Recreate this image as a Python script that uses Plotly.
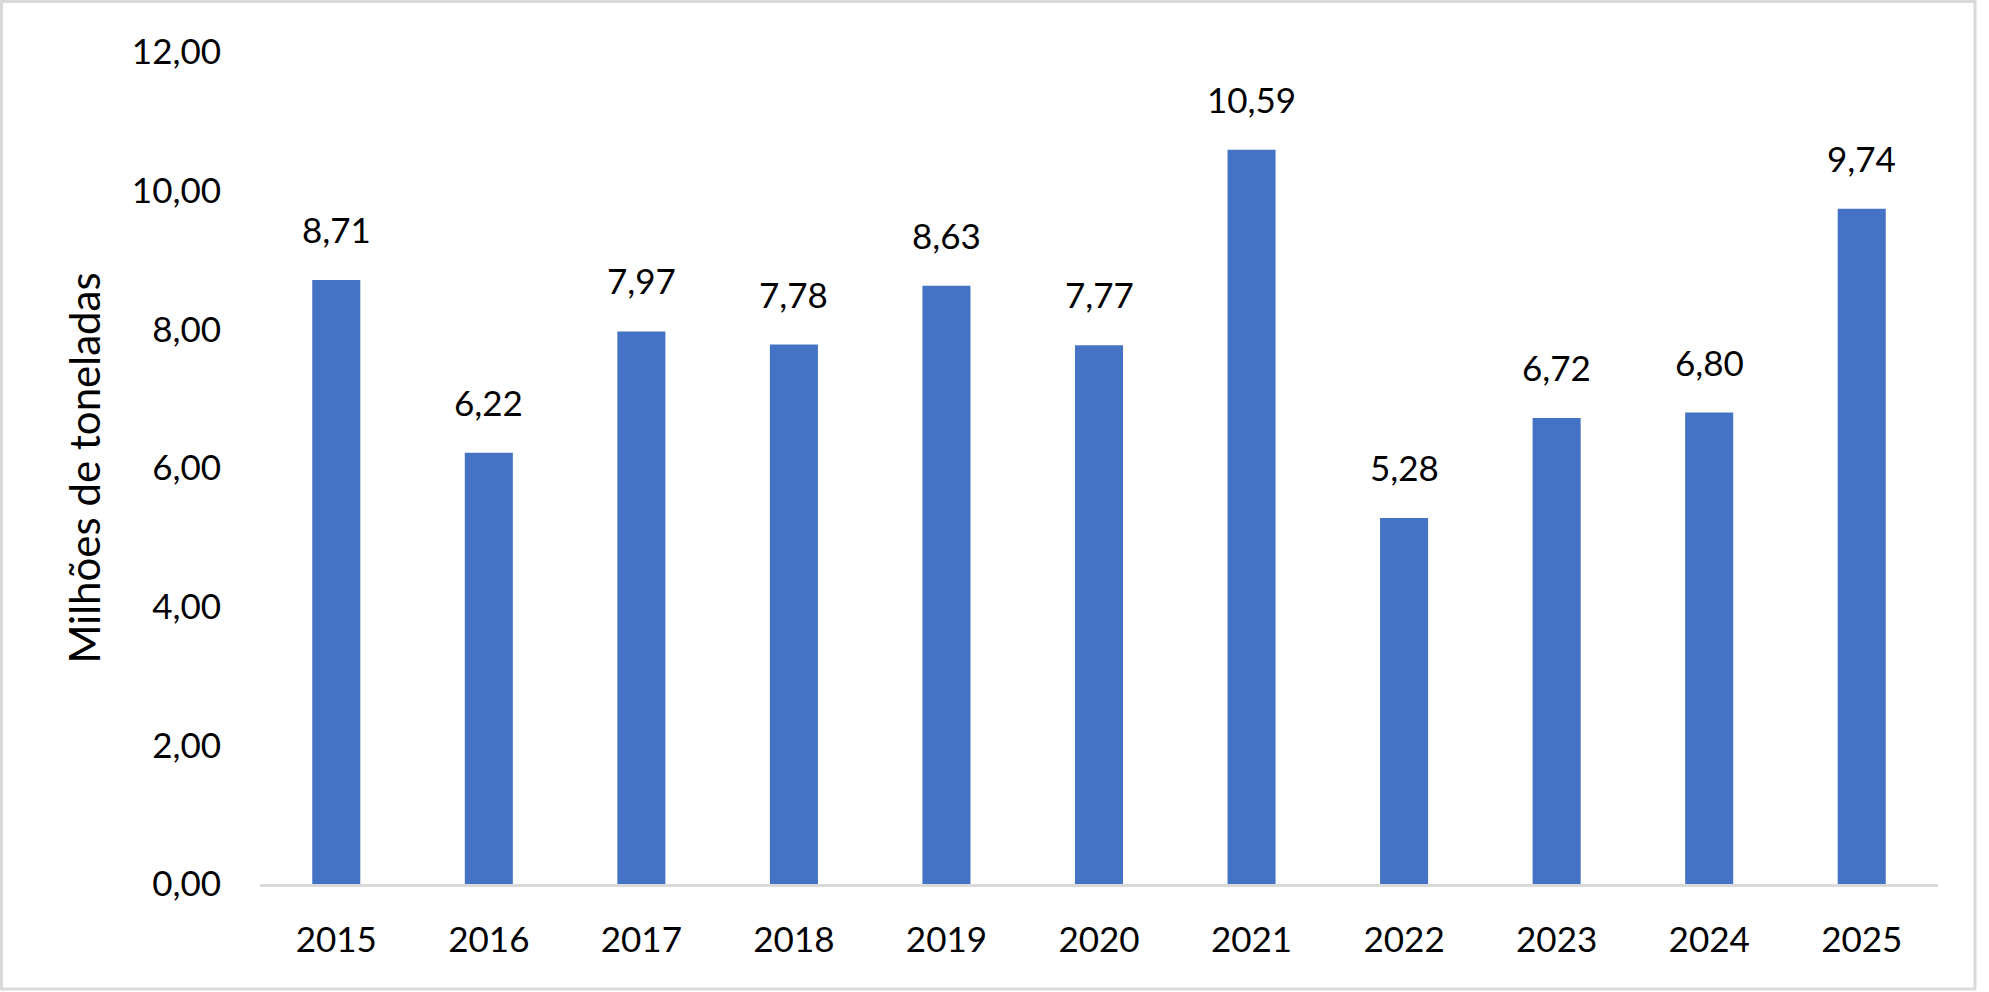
import plotly.graph_objects as go

years = ["2015", "2016", "2017", "2018", "2019", "2020", "2021", "2022", "2023", "2024", "2025"]
values = [8.71, 6.22, 7.97, 7.78, 8.63, 7.77, 10.59, 5.28, 6.72, 6.80, 9.74]
y_title = "Milhões de toneladas"
y_ticks = [0, 2, 4, 6, 8, 10, 12]

FONT = "Lato"
W, H = 1989, 992
L, R, T, B = 260, 51, 52, 108

fig = go.Figure()
fig.add_trace(go.Bar(x=years, y=values, marker=dict(color="#4472C4", line=dict(width=0)),
                     hoverinfo="skip"))

# category index of each year (category axis positions)
for i, v in enumerate(values):
    fig.add_annotation(x=i, y=v, xref="x", yref="y", text=f"{v:.2f}".replace(".", ","),
                       showarrow=False, yanchor="bottom", yshift=28,
                       font=dict(family=FONT, size=35, color="#000000"))

pw = W - L - R
ph = H - T - B
fig.add_shape(type="rect", xref="paper", yref="paper",
              x0=(1.5 - L) / pw, x1=(1975 - L) / pw,
              y0=(H - B - 989) / ph, y1=(H - B - 1.5) / ph,
              line=dict(color="#D9D9D9", width=3), fillcolor="rgba(0,0,0,0)", layer="below")

fig.update_layout(
    width=W, height=H,
    margin=dict(l=L, r=R, t=T, b=B, pad=0),
    paper_bgcolor="white", plot_bgcolor="white",
    separators=",.",
    bargap=0.685,
    showlegend=False,
    font=dict(family=FONT, color="#000000"),
)
fig.update_xaxes(type="category", range=[-0.5, len(years) - 0.5], showgrid=False,
                 showline=True, linecolor="#D9D9D9", linewidth=3,
                 ticks="", tickfont=dict(family=FONT, size=35, color="#000000"),
                 ticklabelstandoff=23, zeroline=False)
fig.update_yaxes(range=[0, 12], tickvals=y_ticks, tickformat=".2f", showgrid=False,
                 showline=False, zeroline=False, ticks="",
                 tickfont=dict(family=FONT, size=35, color="#000000"),
                 ticklabelstandoff=38,
                 title=dict(text=y_title, font=dict(family=FONT, size=42, color="#000000"),
                            standoff=18))

fig.write_html("out.html", config={"displayModeBar": False},
               post_script="document.body.style.margin='0';document.body.style.overflow='hidden';")
